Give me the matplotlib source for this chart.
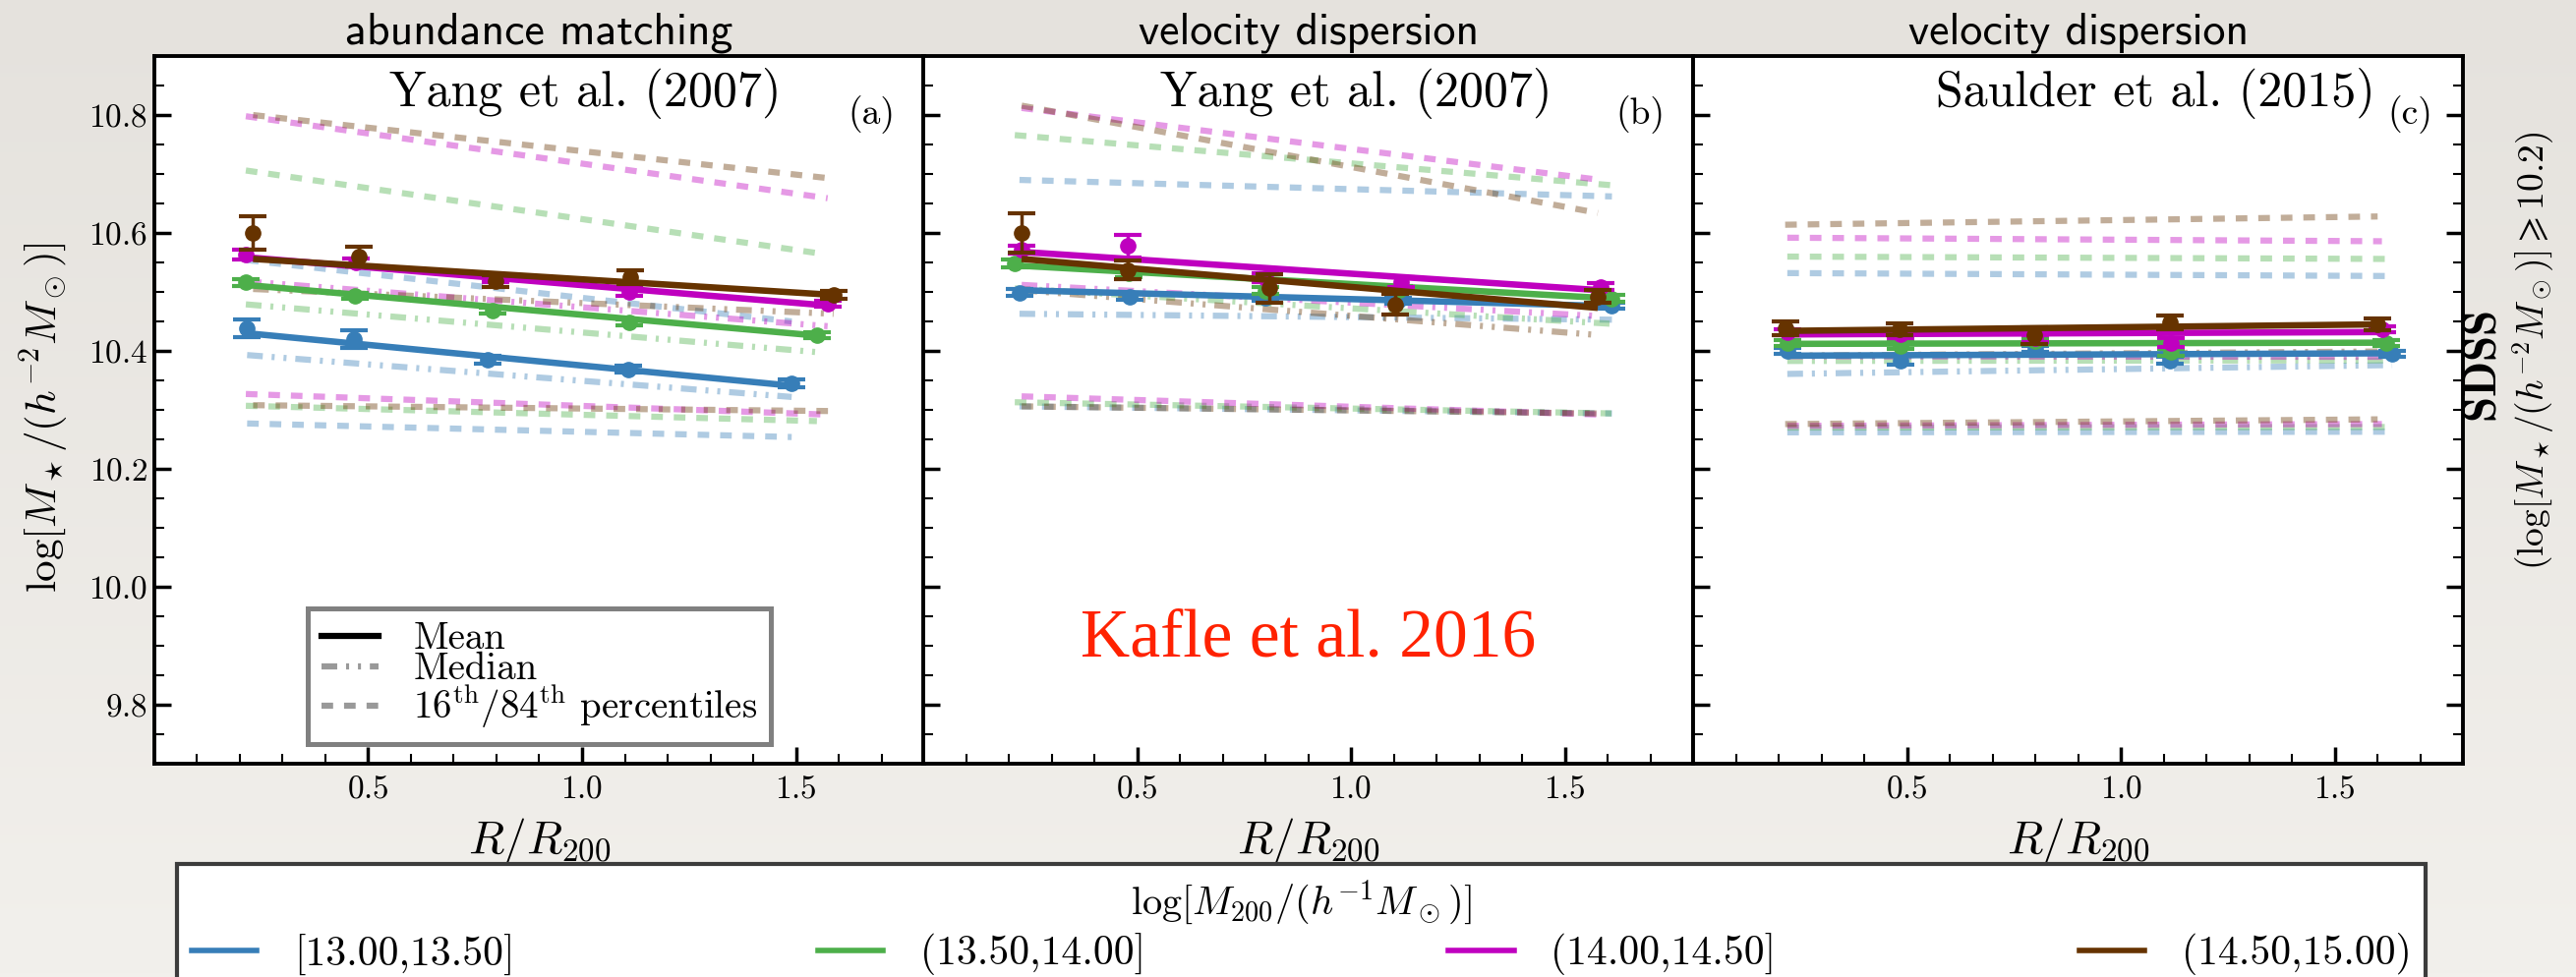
import numpy as np
import matplotlib
matplotlib.use('Agg')
import matplotlib.pyplot as plt
from matplotlib.lines import Line2D
from matplotlib.colors import LinearSegmentedColormap
from matplotlib.ticker import MultipleLocator, FixedLocator

plt.rcParams.update({
    'font.family': 'serif',
    'font.serif': ['cmr10'],
    'mathtext.fontset': 'cm',
    'axes.formatter.use_mathtext': True,
    'axes.unicode_minus': False,
    'lines.scale_dashes': False,
})

# halo mass bins
bin_labels = ['[13.00,13.50]', '(13.50,14.00]', '(14.00,14.50]', '(14.50,15.00)']
bin_colors = ['#377eb8', '#4daf4a', '#bf00bf', '#663300']

titles = ['abundance matching', 'velocity dispersion', 'velocity dispersion']
catalogs = ['Yang et al. (2007)', 'Yang et al. (2007)', 'Saulder et al. (2015)']
catalog_x = [0.56, 0.562, 0.60]
panel_tags = ['(a)', '(b)', '(c)']

# panel (a): abundance matching, Yang et al.
r_a = [[0.217, 0.466, 0.780, 1.107, 1.490],
       [0.214, 0.470, 0.790, 1.111, 1.549],
       [0.214, 0.472, 0.797, 1.111, 1.574],
       [0.231, 0.478, 0.797, 1.113, 1.588]]
mean_a = [[10.439, 10.420, 10.385, 10.369, 10.345],
          [10.516, 10.494, 10.468, 10.449, 10.427],
          [10.563, 10.550, 10.521, 10.500, 10.480],
          [10.600, 10.560, 10.519, 10.525, 10.495]]
err_a = [[0.015, 0.015, 0.006, 0.006, 0.006],
         [0.006, 0.005, 0.005, 0.005, 0.005],
         [0.008, 0.006, 0.005, 0.006, 0.005],
         [0.028, 0.017, 0.010, 0.011, 0.006]]
fit_a = [[10.430, 10.341], [10.512, 10.426], [10.559, 10.477], [10.556, 10.495]]
med_a = [[10.393, 10.322], [10.479, 10.398], [10.518, 10.442], [10.505, 10.463]]
p16_a = [[10.277, 10.254], [10.307, 10.281], [10.327, 10.292], [10.308, 10.298]]
p84_a = [[10.554, 10.450], [10.706, 10.566], [10.798, 10.659], [10.800, 10.692]]

# panel (b): velocity dispersion, Yang et al.
r_b = [[0.225, 0.483, 0.800, 1.110, 1.610],
       [0.214, 0.480, 0.800, 1.112, 1.609],
       [0.230, 0.479, 0.801, 1.118, 1.583],
       [0.230, 0.477, 0.808, 1.104, 1.577]]
mean_b = [[10.499, 10.492, 10.490, 10.485, 10.477],
          [10.548, 10.531, 10.502, 10.504, 10.489],
          [10.572, 10.578, 10.524, 10.517, 10.509],
          [10.600, 10.537, 10.506, 10.479, 10.492]]
err_b = [[0.006, 0.006, 0.005, 0.005, 0.005],
         [0.007, 0.006, 0.006, 0.006, 0.006],
         [0.007, 0.019, 0.007, 0.008, 0.006],
         [0.034, 0.016, 0.024, 0.017, 0.011]]
fit_b = [[10.503, 10.476], [10.545, 10.489], [10.568, 10.503], [10.556, 10.473]]
med_b = [[10.463, 10.453], [10.506, 10.446], [10.512, 10.459], [10.503, 10.427]]
p16_b = [[10.306, 10.294], [10.313, 10.294], [10.323, 10.292], [10.306, 10.294]]
p84_b = [[10.690, 10.662], [10.766, 10.681], [10.812, 10.690], [10.816, 10.634]]

# panel (c): velocity dispersion, Saulder et al.
r_c = [[0.220, 0.485, 0.800, 1.115, 1.634],
       [0.220, 0.485, 0.800, 1.117, 1.620],
       [0.220, 0.484, 0.800, 1.117, 1.610],
       [0.215, 0.482, 0.798, 1.115, 1.600]]
mean_c = [[10.400, 10.384, 10.403, 10.384, 10.395],
          [10.413, 10.409, 10.417, 10.398, 10.414],
          [10.431, 10.428, 10.421, 10.414, 10.436],
          [10.438, 10.437, 10.426, 10.448, 10.445]]
err_c = [[0.005, 0.007, 0.005, 0.006, 0.005],
         [0.005, 0.006, 0.005, 0.006, 0.005],
         [0.005, 0.006, 0.006, 0.008, 0.005],
         [0.012, 0.010, 0.014, 0.012, 0.010]]
fit_c = [[10.392, 10.396], [10.412, 10.414], [10.428, 10.432], [10.434, 10.445]]
med_c = [[10.361, 10.376], [10.383, 10.384], [10.391, 10.390], [10.392, 10.399]]
p16_c = [[10.262, 10.263], [10.270, 10.271], [10.273, 10.276], [10.276, 10.284]]
p84_c = [[10.532, 10.527], [10.560, 10.556], [10.592, 10.586], [10.614, 10.628]]

panels = [(r_a, mean_a, err_a, fit_a, med_a, p16_a, p84_a),
          (r_b, mean_b, err_b, fit_b, med_b, p16_b, p84_b),
          (r_c, mean_c, err_c, fit_c, med_c, p16_c, p84_c)]

DASH_PCT = (0, (8.5, 8.0))
DASH_MED = (0, (11.5, 6.5, 2.2, 6.5, 2.2, 6.5))

fig = plt.figure(figsize=(26.2, 9.94), dpi=100, facecolor='#ebe8e3')

# paper-like backdrop, a little darker at the top
bg = fig.add_axes([0, 0, 1, 1], zorder=-10)
paper = LinearSegmentedColormap.from_list('paper', ['#f2f0ec', '#e5e2dd'])
bg.imshow(np.linspace(1, 0, 256)[:, None], aspect='auto', cmap=paper,
          extent=[0, 1, 0, 1])
bg.set_axis_off()

lefts = [0.0599, 0.3584, 0.6573]
axes = [fig.add_axes([l, 0.2183, 0.2989, 0.7243]) for l in lefts]

for k, ax in enumerate(axes):
    r, mean, err, fit, med, p16, p84 = panels[k]
    for i, c in enumerate(bin_colors):
        ends = [r[i][0], r[i][-1]]
        ax.plot(ends, p16[i], color=c, lw=4.5, alpha=0.4, linestyle=DASH_PCT, zorder=2)
        ax.plot(ends, p84[i], color=c, lw=4.5, alpha=0.4, linestyle=DASH_PCT, zorder=2)
        ax.plot(ends, med[i], color=c, lw=4.5, alpha=0.4, linestyle=DASH_MED, zorder=2)
    for i, c in enumerate(bin_colors):
        ends = [r[i][0], r[i][-1]]
        ax.plot(ends, fit[i], color=c, lw=4.7, solid_capstyle='butt', zorder=3 + i)
        ax.errorbar(r[i], mean[i], yerr=err[i], fmt='o', color=c, ms=11,
                    elinewidth=2.5, capsize=10, capthick=3, zorder=3 + i)

    ax.set_xlim(0, 1.8)
    ax.set_ylim(9.7, 10.9)
    ax.xaxis.set_major_locator(FixedLocator([0.5, 1.0, 1.5]))
    ax.xaxis.set_minor_locator(MultipleLocator(0.1))
    ax.yaxis.set_major_locator(MultipleLocator(0.2))
    ax.yaxis.set_minor_locator(MultipleLocator(0.05))
    ax.tick_params(which='both', direction='in', top=False, right=(k == 2),
                   labelsize=24)
    ax.tick_params(which='major', length=12, width=2.5)
    ax.tick_params(which='minor', length=7, width=1.5)
    ax.tick_params(axis='x', pad=8)
    ax.tick_params(axis='y', pad=5)
    if k > 0:
        ax.tick_params(axis='y', labelleft=False)
    for s in ax.spines.values():
        s.set_linewidth(2.8)

    ax.set_xlabel(r'$R/R_{200}$', fontsize=34)
    ax.xaxis.set_label_coords(0.5, -0.074)
    ax.set_title(titles[k], fontsize=33, family='cmss10', pad=9)
    ax.text(catalog_x[k], 0.929, catalogs[k], transform=ax.transAxes,
            fontsize=36, ha='center', va='baseline')
    ax.text(0.931, 0.917, panel_tags[k], transform=ax.transAxes,
            fontsize=27, ha='center', va='center')

axes[0].set_ylabel(r'$\log[M_\star/(h^{-2}M_\odot)]$', fontsize=31)
axes[0].yaxis.set_label_coords(-0.108, 0.49)

# line style key
style_handles = [Line2D([], [], color='k', lw=4.5),
                 Line2D([], [], color='k', lw=4.5, alpha=0.4, linestyle=DASH_MED),
                 Line2D([], [], color='k', lw=4.5, alpha=0.4, linestyle=DASH_PCT)]
style_labels = ['Mean', 'Median', r'$16^{\rm th}/84^{\rm th}$ percentiles']
leg = axes[0].legend(style_handles, style_labels, loc='lower center',
                     bbox_to_anchor=(0.5, 0.028), borderaxespad=0, fontsize=28,
                     handlelength=1.5, handletextpad=0.9, labelspacing=-0.12,
                     borderpad=0.35, fancybox=False, framealpha=1)
leg.get_frame().set_edgecolor('#808080')
leg.get_frame().set_linewidth(3.6)

axes[1].text(0.5, 0.176, 'Kafle et al. 2016', transform=axes[1].transAxes,
             fontsize=50, family='Liberation Serif', color='#ff2200',
             ha='center', va='center')

fig.text(0.9645, 0.625, r'$\mathbf{SDSS}$', rotation=90, fontsize=34,
         ha='center', va='center')
fig.text(0.9835, 0.641, r'$(\log[M_\star/(h^{-2}M_\odot)] \geqslant 10.2)$',
         rotation=90, fontsize=27, ha='center', va='center')

# halo mass key along the bottom
mass_handles = [Line2D([], [], color=c, lw=4) for c in bin_colors]
mleg = fig.legend(mass_handles, bin_labels, loc='upper left', ncol=4,
                  mode='expand', bbox_to_anchor=(0.0687, 0.116, 0.873, 0),
                  borderaxespad=0, fontsize=30, title_fontsize=29,
                  title=r'$\log[M_{200}/(h^{-1}M_\odot)]$', handlelength=1.6,
                  handletextpad=0.9, labelspacing=0.15, borderpad=0.35,
                  fancybox=False, framealpha=1)
mleg.get_frame().set_edgecolor('#3c3c3c')
mleg.get_frame().set_linewidth(3)

fig.savefig('out.png', dpi=100, facecolor=fig.get_facecolor())
